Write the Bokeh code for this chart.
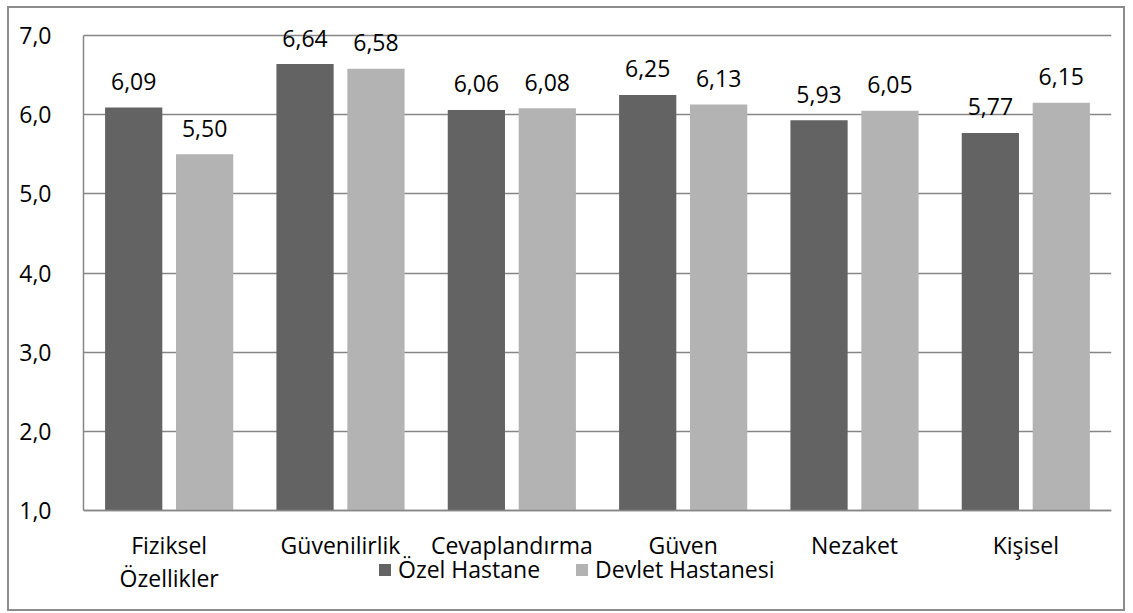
from bokeh.plotting import figure
from bokeh.models import (FactorRange, Range1d, CustomJSTickFormatter, Legend,
                          LegendItem, ColumnDataSource, FixedTicker)
from bokeh.transform import dodge
from bokeh.core.properties import value
from bokeh.embed import file_html
from bokeh.resources import INLINE

categories = ["Fiziksel\nÖzellikler", "Güvenilirlik", "Cevaplandırma", "Güven", "Nezaket", "Kişisel"]
ozel = [6.09, 6.64, 6.06, 6.25, 5.93, 5.77]
devlet = [5.50, 6.58, 6.08, 6.13, 6.05, 6.15]
series_names = ["Özel Hastane", "Devlet Hastanesi"]
y_ticks = [1, 2, 3, 4, 5, 6, 7]

def fmt(v):
    return f"{v:.2f}".replace(".", ",")

src = ColumnDataSource(dict(
    cat=categories, ozel=ozel, devlet=devlet,
    ozel_lbl=[fmt(v) for v in ozel], devlet_lbl=[fmt(v) for v in devlet],
))

FONT = "Open Sans"
FS = "23px"
GRID = "#868686"
DARK = "#636363"
LIGHT = "#b3b3b3"

# layout (pixels); canvas is W x H placed inside the 2px border
W, H = 1118, 605
BW = 2
BL, BR, BT, BB = 74, 16, 4, 8
axis_top_px = 35 - 8      # y of value 7 within canvas
axis_bot_px = 510 - 8     # y of value 1 within canvas
ppu = (axis_bot_px - axis_top_px) / (y_ticks[-1] - y_ticks[0])
y_hi = y_ticks[-1] + (axis_top_px - BT) / ppu
y_lo = y_ticks[0] - ((H - BB) - axis_bot_px) / ppu

p = figure(width=W, height=H, x_range=FactorRange(*categories, range_padding=0),
           y_range=Range1d(y_lo, y_hi), output_backend="svg", toolbar_location=None,
           min_border_left=BL, min_border_top=BT, min_border_right=BR, min_border_bottom=BB)
p.styles = {"border": f"{BW}px solid #8c8c8c", "margin-left": "7px", "margin-top": "6px"}
p.outline_line_color = None
p.background_fill_color = "white"

r1 = p.vbar(x=dodge("cat", -0.207, range=p.x_range), top="ozel", bottom=y_ticks[0], width=0.334,
            source=src, fill_color=DARK, line_color=None)
r2 = p.vbar(x=dodge("cat", 0.207, range=p.x_range), top="devlet", bottom=y_ticks[0], width=0.334,
            source=src, fill_color=LIGHT, line_color=None)

for col, off in (("ozel", -0.207), ("devlet", 0.207)):
    p.text(x=dodge("cat", off, range=p.x_range), y=col, text=col + "_lbl", source=src,
           text_align="center", text_baseline="alphabetic", y_offset=-26,
           text_font=value(FONT), text_font_size=FS, text_color="black")

p.ygrid.ticker = FixedTicker(ticks=y_ticks)
p.ygrid.grid_line_color = GRID
p.ygrid.grid_line_width = 1.5
p.xgrid.grid_line_color = None

p.yaxis.ticker = FixedTicker(ticks=y_ticks)
p.yaxis.bounds = (y_ticks[0], y_ticks[-1])
p.yaxis.formatter = CustomJSTickFormatter(code="return tick.toFixed(1).replace('.', ',');")
p.xaxis.fixed_location = y_ticks[0]
for ax in (p.xaxis[0], p.yaxis[0]):
    ax.axis_line_color = GRID
    ax.axis_line_width = 1.5
    ax.major_tick_line_color = None
    ax.minor_tick_line_color = None
    ax.major_label_text_font = FONT
    ax.major_label_text_font_size = FS
    ax.major_label_text_color = "black"
p.yaxis.major_label_standoff = 26
p.xaxis.major_label_standoff = 12
p.xaxis.major_label_text_line_height = 1.04

legend = Legend(items=[LegendItem(label=series_names[0], renderers=[r1]),
                       LegendItem(label=series_names[1], renderers=[r2])],
                location=(294, 20), orientation="horizontal",
                glyph_width=15, glyph_height=15, label_standoff=6, spacing=34,
                padding=0, margin=0, border_line_color=None, background_fill_alpha=0,
                label_text_font=FONT, label_text_font_size=FS, label_text_color="black")
p.add_layout(legend, "center")

open("out.html", "w").write(file_html(p, INLINE))
